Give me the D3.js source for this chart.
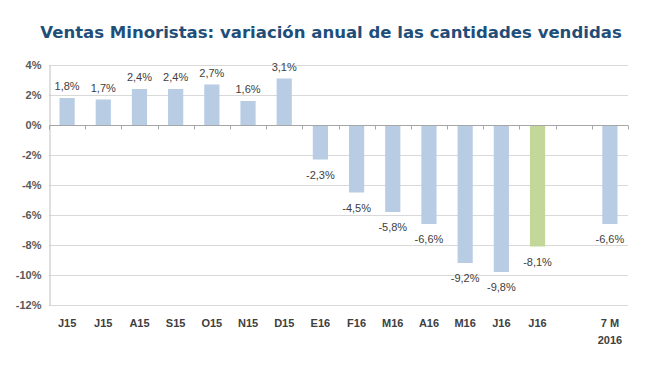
<!DOCTYPE html>
<html><head><meta charset="utf-8">
<script src="https://cdn.jsdelivr.net/npm/d3@7"></script>
<style>body{margin:0;background:#fff}svg{display:block}</style>
</head><body><svg id="c" width="669" height="380"></svg>
<script>
const categories = ["J15","J15b","A15","S15","O15","N15","D15","E16","F16","M16","A16","M16b","J16","J16b","gap","7M"];
const tickLabels = [["J15"],["J15"],["A15"],["S15"],["O15"],["N15"],["D15"],["E16"],["F16"],["M16"],["A16"],["M16"],["J16"],["J16"],[],["7 M","2016"]];
const values = [1.8,1.7,2.4,2.4,2.7,1.6,3.1,-2.3,-4.5,-5.8,-6.6,-9.2,-9.8,-8.1,null,-6.6];
const highlight = [false,false,false,false,false,false,false,false,false,false,false,false,false,true,false,false];
const yTicks = [4,2,0,-2,-4,-6,-8,-10,-12];

const svg = d3.select("#c");
const pLeft = 49, pRight = 628, pTop = 65, pBottom = 305;
const x = d3.scaleBand().domain(categories).range([pLeft, pRight]).paddingInner(0.58).paddingOuter(0.29);
const xb = d3.scaleBand().domain(categories).range([pLeft, pRight]);
const y = d3.scaleLinear().domain([-12, 4]).range([pBottom, pTop]);

// title
const t = svg.append("text").attr("x", 334).attr("y", 38).attr("text-anchor","middle")
  .attr("font-family","DejaVu Sans, Verdana, sans-serif").attr("font-weight","bold")
  .attr("font-size",16).attr("fill","#1f4e79")
  .text("Ventas Minoristas: variación anual de las cantidades vendidas");
const w = t.node().getComputedTextLength();
t.attr("font-size", 16 * 582 / w).attr("x", 40 + 291);

// gridlines
svg.append("g").selectAll("line").data(yTicks).join("line")
  .attr("x1", pLeft).attr("x2", pRight).attr("y1", d=>Math.round(y(d))+0.5).attr("y2", d=>Math.round(y(d))+0.5)
  .attr("stroke","#d9d9d9").attr("stroke-width",1);

// y axis
const ya = d3.axisLeft(y).tickValues(yTicks).tickFormat(d=>d+"%").tickSize(0).tickPadding(8);
const yg = svg.append("g").attr("transform",`translate(${pLeft+0.5},0)`).call(ya);
yg.select(".domain").attr("stroke","#bfbfbf");
yg.selectAll("text").attr("font-family","Liberation Sans, Arial, sans-serif").attr("font-size",11).attr("fill","#595959").attr("font-weight","bold");

// bars
svg.append("g").selectAll("rect").data(values.map((v,i)=>({v,i})).filter(d=>d.v!==null)).join("rect")
  .attr("x", d=>x(categories[d.i])).attr("width", x.bandwidth())
  .attr("y", d=>y(Math.max(0,d.v))).attr("height", d=>Math.abs(y(d.v)-y(0)))
  .attr("fill", d=>highlight[d.i] ? "#c4d79b" : "#b8cce4");

// zero axis with category ticks
const z = Math.round(y(0))+0.5;
svg.append("line").attr("x1",pLeft).attr("x2",pRight).attr("y1",z).attr("y2",z).attr("stroke","#a6a6a6");
svg.append("g").selectAll("line").data(categories.concat(["end"])).join("line")
  .attr("x1", (d,i)=> i<categories.length ? Math.round(xb(d))+0.5 : pRight+0.5)
  .attr("x2", (d,i)=> i<categories.length ? Math.round(xb(d))+0.5 : pRight+0.5)
  .attr("y1", z).attr("y2", z+4).attr("stroke","#a6a6a6");

// value labels
svg.append("g").selectAll("text").data(values.map((v,i)=>({v,i})).filter(d=>d.v!==null)).join("text")
  .attr("x", d=>x(categories[d.i])+x.bandwidth()/2)
  .attr("y", d=> d.v>=0 ? y(d.v)-8 : y(d.v)+19)
  .attr("text-anchor","middle").attr("font-family","Liberation Sans, Arial, sans-serif")
  .attr("font-size",11).attr("fill","#404040")
  .text(d=>d.v.toFixed(1).replace(".",",")+"%");

// x labels
const xl = svg.append("g");
tickLabels.forEach((lines,i)=>{
  lines.forEach((s,j)=>{
    xl.append("text").attr("x", x(categories[i])+x.bandwidth()/2).attr("y", 327+j*17)
      .attr("text-anchor","middle").attr("font-family","Liberation Sans, Arial, sans-serif")
      .attr("font-size",11).attr("font-weight","bold").attr("fill","#404040").text(s);
  });
});
</script></body></html>
